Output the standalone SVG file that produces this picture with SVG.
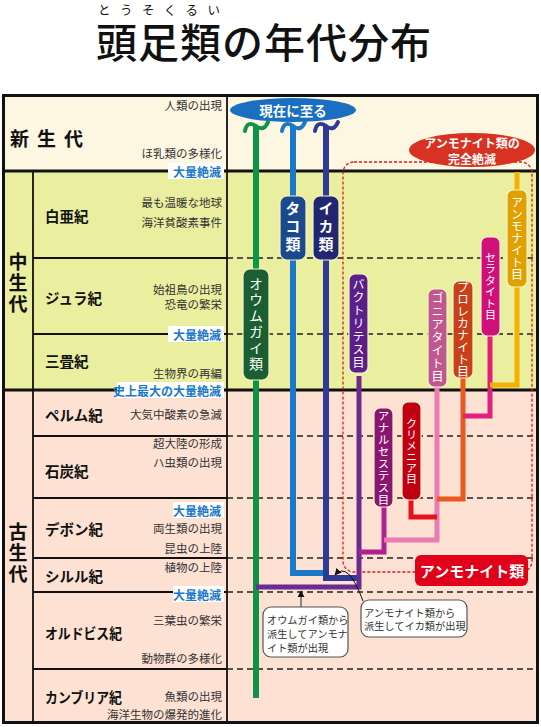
<svg xmlns="http://www.w3.org/2000/svg" width="541" height="727" viewBox="0 0 541 727">
<style>
text{font-family:"Noto Sans CJK JP","Noto Sans",sans-serif;}
.ev{font-size:11.5px;fill:#333;text-anchor:end;dominant-baseline:central;}
.pd{font-size:14.5px;font-weight:bold;fill:#111;dominant-baseline:central;}
.era{font-size:19px;font-weight:bold;fill:#111;}
.ext{font-size:12px;font-weight:bold;fill:#1a78c8;text-anchor:end;dominant-baseline:central;}
.wbg{fill:#fff;}
.sol{stroke:#111;stroke-width:1.8;fill:none;}
.era-l{stroke:#111;stroke-width:2.8;fill:none;}
.dash{stroke:#222;stroke-width:1.3;stroke-dasharray:6 4;fill:none;}
.ln{fill:none;stroke-linejoin:miter;stroke-linecap:butt;}
.vt{writing-mode:vertical-rl;text-anchor:middle;fill:#fff;}
.box{stroke:#f4f2c8;stroke-width:1.2;}
.call{fill:#fff;stroke:#555;stroke-width:1.2;}
.ct{font-size:10.2px;fill:#333;dominant-baseline:central;}
</style>
<defs>
<marker id="ah" viewBox="0 0 10 10" refX="9" refY="5" markerWidth="7" markerHeight="7" orient="auto" markerUnits="userSpaceOnUse">
<path d="M0 0 L10 5 L0 10 Z" fill="#111"/>
</marker>
</defs>

<!-- title -->
<g id="title">
<text x="98" y="9" font-size="12.5" fill="#111" textLength="122" lengthAdjust="spacing" dominant-baseline="central">とうそくるい</text>
<text x="96" y="58" font-size="41" font-weight="500" fill="#111" textLength="335" lengthAdjust="spacing">頭足類の年代分布</text>
</g>

<!-- backgrounds -->
<g id="bg">
<rect x="3" y="95" width="535" height="76" fill="#fdf6e1"/>
<rect x="3" y="171" width="535" height="219" fill="#e9ef9f"/>
<rect x="3" y="390" width="535" height="333" fill="#fde1d3"/>
</g>

<!-- grid -->
<g id="grid">
<path class="sol" d="M33 258H227M33 334H227M33 436H227M33 498H227M33 558H227M33 592H227M33 669H227"/>
<path class="dash" d="M227 258H538M227 334H538M227 436H538M227 498H538M227 558H538M227 592H538M227 669H538"/>
<path class="era-l" d="M3 171H538M3 390H538"/>
<path class="sol" d="M33 171V723M227 95V723"/>
<rect x="3.5" y="95.5" width="534" height="627" fill="none" stroke="#111" stroke-width="3"/>
</g>

<!-- era / period labels -->
<g id="eras">
<text class="era" x="10" y="137" dominant-baseline="central" letter-spacing="8">新生代</text>
<text class="era" x="18" y="284" style="writing-mode:vertical-rl;text-anchor:middle" letter-spacing="2">中生代</text>
<text class="era" x="18" y="554" style="writing-mode:vertical-rl;text-anchor:middle" letter-spacing="2">古生代</text>
</g>
<g id="periods">
<text class="pd" x="45" y="215">白亜紀</text>
<text class="pd" x="45" y="297">ジュラ紀</text>
<text class="pd" x="45" y="360">三畳紀</text>
<text class="pd" x="45" y="414">ペルム紀</text>
<text class="pd" x="45" y="470">石炭紀</text>
<text class="pd" x="45" y="528">デボン紀</text>
<text class="pd" x="45" y="575">シルル紀</text>
<text class="pd" x="45" y="632" textLength="77" lengthAdjust="spacingAndGlyphs">オルドビス紀</text>
<text class="pd" x="45" y="696" textLength="77" lengthAdjust="spacingAndGlyphs">カンブリア紀</text>
</g>

<g id="events">
<text class="ev" x="222" y="105">人類の出現</text>
<text class="ev" x="222" y="153">ほ乳類の多様化</text>
<text class="ev" x="222" y="202">最も温暖な地球</text>
<text class="ev" x="222" y="222">海洋貧酸素事件</text>
<text class="ev" x="222" y="288.5">始祖鳥の出現</text>
<text class="ev" x="222" y="303.5">恐竜の繁栄</text>
<text class="ev" x="222" y="373">生物界の再編</text>
<text class="ev" x="222" y="414">大気中酸素の急減</text>
<text class="ev" x="222" y="443">超大陸の形成</text>
<text class="ev" x="222" y="462">ハ虫類の出現</text>
<text class="ev" x="222" y="528">両生類の出現</text>
<text class="ev" x="222" y="548">昆虫の上陸</text>
<text class="ev" x="222" y="567">植物の上陸</text>
<text class="ev" x="222" y="620">三葉虫の繁栄</text>
<text class="ev" x="222" y="658">動物群の多様化</text>
<text class="ev" x="222" y="696">魚類の出現</text>
<text class="ev" x="222" y="714">海洋生物の爆発的進化</text>
</g>

<g id="extinctions">
<rect class="wbg" x="168" y="163" width="56" height="16"/>
<text class="ext" x="221" y="171">大量絶滅</text>
<rect class="wbg" x="168" y="326" width="56" height="16"/>
<text class="ext" x="221" y="334">大量絶滅</text>
<rect class="wbg" x="117" y="382" width="107" height="16"/>
<text class="ext" x="221" y="390">史上最大の大量絶滅</text>
<rect class="wbg" x="173" y="502" width="51" height="16"/>
<text class="ext" x="221" y="510">大量絶滅</text>
<rect class="wbg" x="173" y="586" width="51" height="16"/>
<text class="ext" x="221" y="594">大量絶滅</text>
</g>

<!-- ammonite dashed frame -->
<g id="ammonite-frame">
<rect x="343" y="162" width="189" height="410" rx="11" fill="none" stroke="#e01a1a" stroke-width="1.3" stroke-dasharray="3 2"/>
</g>

<!-- connectors -->
<g id="connectors">
<path class="ln" stroke="#0e9444" stroke-width="6" d="M256 126V698"/>
<path class="ln" stroke="#1a78c8" stroke-width="6" d="M293 126V573H326"/>
<path class="ln" stroke="#2e3a94" stroke-width="6" d="M326 126V578H359"/>
<path class="ln" stroke="#6a2a90" stroke-width="5" d="M359 376V587H256"/>
<path class="ln" stroke="#b0208e" stroke-width="5" d="M384 507V552H359"/>
<path class="ln" stroke="#ea7ab0" stroke-width="5" d="M437 387V540H384"/>
<path class="ln" stroke="#e8101a" stroke-width="5" d="M411 500V517H437"/>
<path class="ln" stroke="#e85a20" stroke-width="5" d="M463 378V499H437"/>
<path class="ln" stroke="#e0207e" stroke-width="5" d="M490 336V416H463"/>
<path class="ln" stroke="#f5b000" stroke-width="5" d="M517 287V385H490"/>
<path class="ln" stroke="#f5b000" stroke-width="5" d="M517 172V192"/>
<path fill="none" stroke="#0e9444" stroke-width="4" stroke-linecap="round" d="M245 131Q247 120 256 126Q264 132 268 122"/>
<path fill="none" stroke="#1a78c8" stroke-width="4" stroke-linecap="round" d="M282 131Q284 120 293 126Q301 132 305 122"/>
<path fill="none" stroke="#2e3a94" stroke-width="4" stroke-linecap="round" d="M315 131Q317 120 326 126Q334 132 338 122"/>
<path fill="none" stroke="#666" stroke-width="1.5" d="M301 607V591" marker-end="url(#ah)"/>
<path fill="none" stroke="#111" stroke-width="1" d="M363 601Q348 560 335 575" marker-end="url(#ah)"/>
</g>

<!-- top labels -->
<g id="now">
<ellipse cx="293" cy="110" rx="63" ry="12" fill="#1a6fc0"/>
<text x="293" y="110" font-size="13.5" font-weight="bold" fill="#fff" text-anchor="middle" dominant-baseline="central">現在に至る</text>
</g>
<g id="extinct-all">
<ellipse cx="472" cy="150" rx="63" ry="17" fill="#d83322"/>
<text x="472" y="142.5" font-size="12" font-weight="bold" fill="#fff" text-anchor="middle" dominant-baseline="central">アンモナイト類の</text>
<text x="472" y="158" font-size="12" font-weight="bold" fill="#fff" text-anchor="middle" dominant-baseline="central">完全絶滅</text>
</g>
<g id="ammonoid-label">
<rect x="415" y="555" width="113" height="31" rx="6" fill="#e0001a"/>
<text x="472" y="570" font-size="15" font-weight="bold" fill="#fff" text-anchor="middle" dominant-baseline="central">アンモナイト類</text>
</g>

<!-- nodes -->
<g id="nautilus">
<rect class="box" x="243" y="269" width="26" height="111" rx="7" fill="#1b5e32"/>
<text class="vt" x="256" y="324.5" font-size="14" letter-spacing="2">オウムガイ類</text>
</g>
<g id="octopus">
<rect class="box" x="280" y="196" width="26" height="64" rx="7" fill="#1a4a8c"/>
<text class="vt" x="293" y="228" font-size="15" font-weight="bold" letter-spacing="3">タコ類</text>
</g>
<g id="squid">
<rect class="box" x="313" y="196" width="26" height="64" rx="7" fill="#222670"/>
<text class="vt" x="326" y="228" font-size="15" font-weight="bold" letter-spacing="3">イカ類</text>
</g>
<g id="bactritida">
<rect class="box" x="349" y="274" width="19" height="99" rx="6" fill="#5c1f8a"/>
<text class="vt" x="358.5" y="323.5" font-size="12" letter-spacing="1">バクトリテス目</text>
</g>
<g id="anarcestida">
<rect class="box" x="374" y="408" width="19" height="99" rx="6" fill="#8a1570"/>
<text class="vt" x="383.5" y="457.5" font-size="11.5" letter-spacing="0.5">アナルセステス目</text>
</g>
<g id="clymeniida">
<rect class="box" x="402" y="402" width="19" height="98" rx="6" fill="#c00012"/>
<text class="vt" x="411.5" y="451" font-size="11" letter-spacing="0">クリメニア目</text>
</g>
<g id="goniatitida">
<rect class="box" x="428" y="289" width="19" height="98" rx="6" fill="#c05890"/>
<text class="vt" x="437.5" y="338" font-size="12" letter-spacing="1">ゴニアタイト目</text>
</g>
<g id="prolecanitida">
<rect class="box" x="453" y="281" width="20" height="97" rx="6" fill="#c84018"/>
<text class="vt" x="463" y="329.5" font-size="12" letter-spacing="0">プロレカナイト目</text>
</g>
<g id="ceratitida">
<rect class="box" x="481" y="237" width="19" height="99" rx="6" fill="#d0107a"/>
<text class="vt" x="490.5" y="286.5" font-size="11" letter-spacing="0.5">セラタイト目</text>
</g>
<g id="ammonitida">
<rect class="box" x="507" y="190" width="20" height="97" rx="6" fill="#e0a000"/>
<text class="vt" x="517" y="238.5" font-size="12" letter-spacing="0">アンモナイト目</text>
</g>

<!-- callouts -->
<g id="callout-ammonoid-origin">
<rect class="call" x="263" y="607" width="85" height="50" rx="8"/>
<text class="ct" x="267" y="619">オウムガイ類から</text>
<text class="ct" x="267" y="633">派生してアンモナ</text>
<text class="ct" x="267" y="647">イト類が出現</text>
</g>
<g id="callout-squid-origin">
<rect class="call" x="361" y="600" width="106" height="37" rx="8"/>
<text class="ct" x="364" y="612">アンモナイト類から</text>
<text class="ct" x="364" y="625.5">派生してイカ類が出現</text>
</g>
</svg>
